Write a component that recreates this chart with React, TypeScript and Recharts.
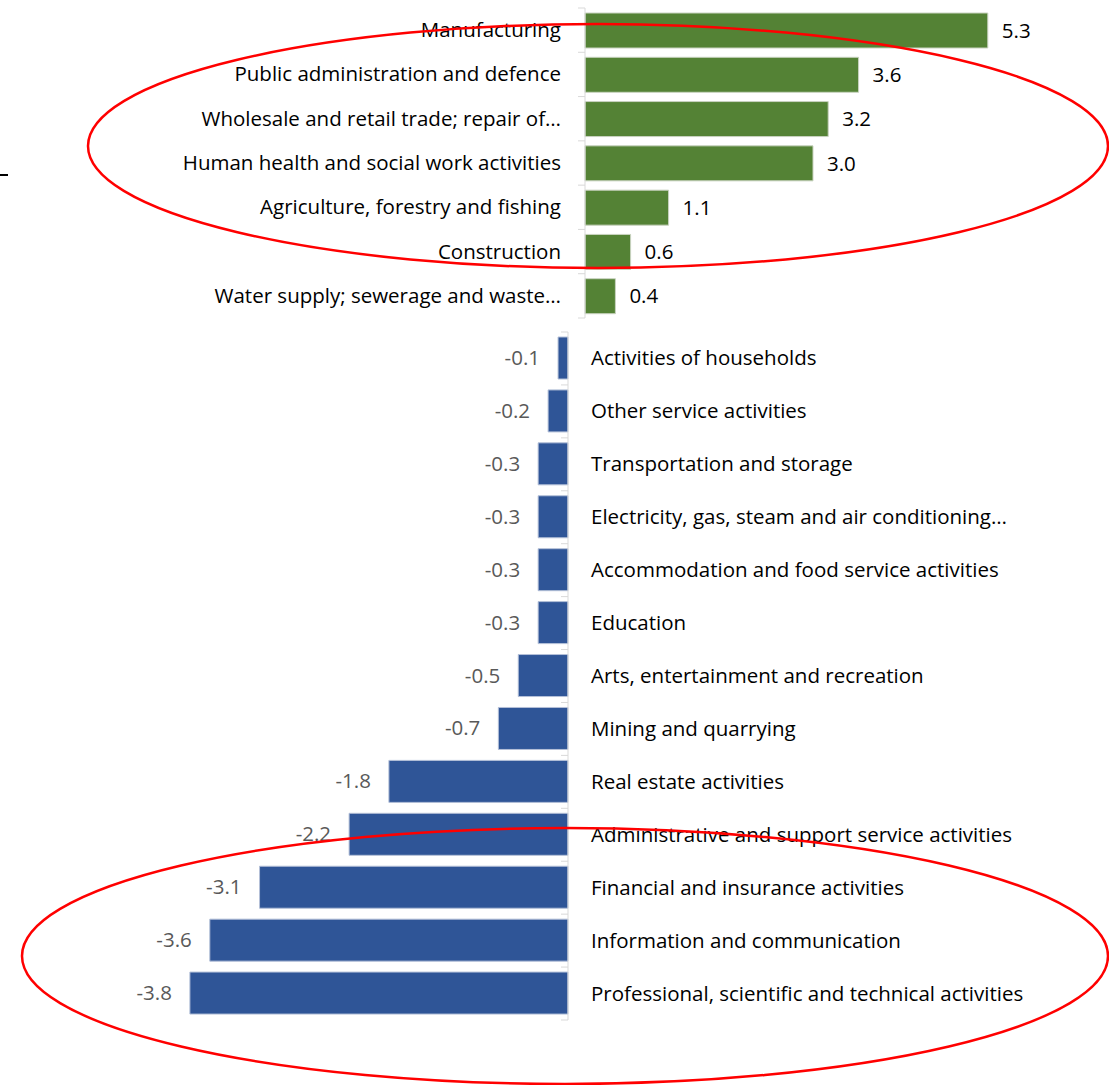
import React from "react";
import { BarChart, Bar, XAxis, YAxis, LabelList } from "recharts";

const gainCategories = [
  "Manufacturing",
  "Public administration and defence",
  "Wholesale and retail trade; repair of…",
  "Human health and social work activities",
  "Agriculture, forestry and fishing",
  "Construction",
  "Water supply; sewerage and waste…",
];
const gainValues = [5.3, 3.6, 3.2, 3.0, 1.1, 0.6, 0.4];

const lossCategories = [
  "Activities of households",
  "Other service activities",
  "Transportation and storage",
  "Electricity, gas, steam and air conditioning…",
  "Accommodation and food service activities",
  "Education",
  "Arts, entertainment and recreation",
  "Mining and quarrying",
  "Real estate activities",
  "Administrative and support service activities",
  "Financial and insurance activities",
  "Information and communication",
  "Professional, scientific and technical activities",
];
const lossValues = [-0.1, -0.2, -0.3, -0.3, -0.3, -0.3, -0.5, -0.7, -1.8, -2.2, -3.1, -3.6, -3.8];

const gainData = gainCategories.map((name, i) => ({ name, value: gainValues[i] }));
const lossData = lossCategories.map((name, i) => ({ name, value: lossValues[i] }));

const FONT = "'Open Sans', 'Noto Sans', sans-serif";
const FS = 20.5;
const W = 1109;

// top chart geometry
const TOP_H = 330;
const TOP_M = { top: 8, right: 68, bottom: 12, left: 0 };
const TOP_AXIS_X = 585;
const TOP_STEP = (TOP_H - TOP_M.top - TOP_M.bottom) / gainData.length;

// bottom chart geometry
const BOT_Y = 320;
const BOT_H = 712;
const BOT_M = { top: 12, right: 0, bottom: 12, left: 170 };
const BOT_AXIS_X = 568;
const BOT_STEP = (BOT_H - BOT_M.top - BOT_M.bottom) / lossData.length;

const GainTick = (props: any) => {
  const { y, payload, index } = props;
  const last = index === gainData.length - 1;
  return (
    <g>
      <text x={TOP_AXIS_X - 24} y={y} dy={7} textAnchor="end" fontSize={FS} fill="#000" fontFamily={FONT}>
        {payload.value}
      </text>
      <line x1={TOP_AXIS_X - 7} x2={TOP_AXIS_X} y1={y - TOP_STEP / 2} y2={y - TOP_STEP / 2} stroke="#d9d9d9" />
      {last && (
        <line x1={TOP_AXIS_X - 7} x2={TOP_AXIS_X} y1={y + TOP_STEP / 2} y2={y + TOP_STEP / 2} stroke="#d9d9d9" />
      )}
    </g>
  );
};

const LossTick = (props: any) => {
  const { y, payload, index } = props;
  const last = index === lossData.length - 1;
  return (
    <g>
      <text x={BOT_AXIS_X + 23} y={y} dy={7} textAnchor="start" fontSize={FS} fill="#000" fontFamily={FONT}>
        {payload.value}
      </text>
      <line x1={BOT_AXIS_X - 7} x2={BOT_AXIS_X} y1={y - BOT_STEP / 2} y2={y - BOT_STEP / 2} stroke="#d9d9d9" />
      {last && (
        <line x1={BOT_AXIS_X - 7} x2={BOT_AXIS_X} y1={y + BOT_STEP / 2} y2={y + BOT_STEP / 2} stroke="#d9d9d9" />
      )}
    </g>
  );
};

const LossLabel = (props: any) => {
  const { x, y, width, height, value } = props;
  const left = Math.min(x, x + width);
  return (
    <text x={left - 18} y={y + height / 2} dy={7} textAnchor="end" fontSize={FS} fill="#595959" fontFamily={FONT}>
      {Number(value).toFixed(1)}
    </text>
  );
};

export default function App() {
  return (
    <div style={{ position: "absolute", left: 0, top: 0, width: W, height: 1085, background: "#fff", fontFamily: FONT }}>
      <div style={{ position: "absolute", left: 0, top: 0 }}>
        <BarChart width={W} height={TOP_H} data={gainData} layout="vertical" margin={TOP_M}>
          <XAxis type="number" domain={[0, 6]} hide />
          <YAxis
            type="category"
            dataKey="name"
            width={TOP_AXIS_X}
            axisLine={{ stroke: "#d9d9d9" }}
            tickLine={false}
            tick={<GainTick />}
            interval={0}
          />
          <Bar dataKey="value" fill="#548235" stroke="#c9d3c0" strokeWidth={1} barSize={35} isAnimationActive={false}>
            <LabelList dataKey="value" position="right" offset={14} fill="#000" fontSize={FS} fontFamily={FONT}
              formatter={(v: any) => Number(v).toFixed(1)} />
          </Bar>
        </BarChart>
      </div>
      <div style={{ position: "absolute", left: 0, top: BOT_Y }}>
        <BarChart width={W} height={BOT_H} data={lossData} layout="vertical" margin={BOT_M}>
          <XAxis type="number" domain={[-4, 0]} hide />
          <YAxis
            type="category"
            dataKey="name"
            orientation="right"
            width={W - BOT_AXIS_X}
            axisLine={{ stroke: "#d9d9d9" }}
            tickLine={false}
            tick={<LossTick />}
            interval={0}
          />
          <Bar dataKey="value" fill="#2f5597" stroke="#b4c0d8" strokeWidth={1} barSize={42} isAnimationActive={false}>
            <LabelList dataKey="value" content={<LossLabel />} />
          </Bar>
        </BarChart>
      </div>
      <svg width={W} height={1085} style={{ position: "absolute", left: 0, top: 0, pointerEvents: "none" }}>
        <ellipse cx={598} cy={146} rx={510} ry={122} fill="none" stroke="#ff0000" strokeWidth={2.5} />
        <ellipse cx={565} cy={956} rx={543} ry={128} fill="none" stroke="#ff0000" strokeWidth={2.5} />
        <line x1={0} x2={8} y1={175} y2={175} stroke="#000" strokeWidth={2} />
      </svg>
    </div>
  );
}
